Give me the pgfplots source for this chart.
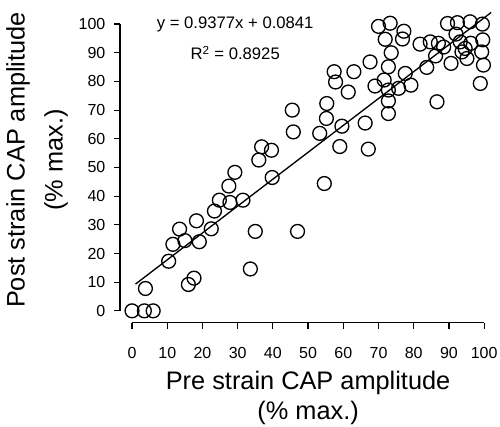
\documentclass[border=0pt]{standalone}
\usepackage{pgfplots}
\pgfplotsset{compat=1.18}
\usepackage{pgfplotstable}
\usepackage{fontspec}
\setmainfont{Liberation Sans}

\pgfplotstableread{
pre   post
0     0
3.5   0
6     0
3.8   7.8
16    9.2
17.6  11.4
10.4  17.3
11.6  23.2
15    24.5
19.1  24.1
13.5  28.5
18.3  31.4
22.5  28.6
23.4  34.8
24.8  38.6
27.8  37.8
27.5  43.5
29.2  48.3
31.5  38.6
33.6  14.6
35    27.7
47    27.7
39.8  46.5
36    52.6
36.8  57.2
39.6  56
45.5  70
45.8  62.4
54.6  44.4
55.3  72.3
55.2  67.1
53.3  61.9
59.6  64.4
59    57.3
66.2  65.5
67.1  56.4
57.4  83.4
57.8  79.8
61.4  76.3
63    83.4
67.6  86.8
70    99.2
73.3  100.3
71.9  94.7
77.2  97.5
76.8  94.8
73.6  90
72.8  85.1
71.6  80.5
77.6  82.8
79.2  78.7
69    78.4
72.8  77
75.7  77.6
72.8  73.2
72.8  68.8
86.6  72.9
81.8  93
84.7  93.8
87    93.3
83.7  84.9
86.2  88.9
90.6  86.3
89.6  100.2
92.4  100.5
96    100.8
99.5  100
92    96.5
96.2  93.3
99.6  94.5
94.6  91.5
99.3  90.3
88.5  92
99.8  85.7
98.9  79.3
95.1  88
93.7  90.3
93.2  93.8
}\straindata

\pgfplotstableread{
pre   post
1     9.35
102   104.06
}\fitline

\begin{document}
\begin{tikzpicture}
\begin{axis}[
  x=2.64pt, y=2.15pt,
  xmin=0, xmax=100, ymin=0, ymax=100,
  axis lines*=left,
  axis x line shift=9pt,
  axis y line shift=9pt,
  clip=false,
  xtick={0,10,...,100},
  ytick={0,10,...,100},
  tick align=outside,
  major tick length=4.5pt,
  every tick/.style={black, line width=0.9pt},
  axis line style={black, line width=0.9pt},
  ticklabel style={font=\fontsize{12}{14}\selectfont},
  xticklabel style={yshift=-10pt},
  yticklabel style={xshift=-3pt},
  /pgf/number format/assume math mode=true,
  xlabel={Pre strain CAP amplitude\\(\% max.)},
  ylabel={Post strain CAP amplitude\\(\% max.)},
  label style={font=\fontsize{19}{22.5}\selectfont, align=center},
  xlabel style={at={(axis cs:50,-30.3)}, anchor=center},
  ylabel style={font=\fontsize{19}{28.5}\selectfont,
                at={(axis cs:-27,52.6)}, anchor=center},
]
% measured points
\addplot[only marks, mark=o, mark size=5.2pt, black, line width=1pt]
  table[x=pre, y=post] {\straindata};
% fitted line
\addplot[black, line width=1pt, no marks] table[x=pre, y=post] {\fitline};
\node[font=\fontsize{12.5}{15}\selectfont] at (axis cs:29.3,100) {y = 0.9377x + 0.0841};
\node[font=\fontsize{12.5}{15}\selectfont] at (axis cs:29.3,89.9) {R\textsuperscript{2} = 0.8925};
\coordinate (bbl) at (axis cs:-37.5,-40.5);
\coordinate (btr) at (axis cs:104.5,108.4);
\end{axis}
\pgfresetboundingbox
\path (bbl) rectangle (btr);
\end{tikzpicture}
\end{document}
